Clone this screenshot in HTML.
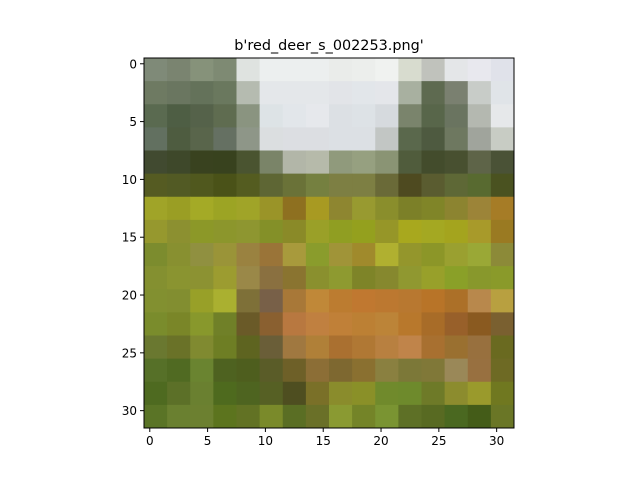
<!DOCTYPE html>
<html><head><meta charset="utf-8"><style>
body{margin:0;background:#fff;font-family:"Liberation Sans","DejaVu Sans",sans-serif}
svg text{font-family:"DejaVu Sans","Liberation Sans",sans-serif;font-size:12px;fill:#000}
</style></head><body>
<svg id="chart" width="640" height="480" viewBox="0 0 640 480" xmlns="http://www.w3.org/2000/svg">
<rect width="640" height="480" fill="#fff"/>
<text x="329" y="50" text-anchor="middle" style="font-size:14.4px">b'red_deer_s_002253.png'</text>
<g id="cells"></g>
<rect x="144" y="58" width="370" height="370" fill="none" stroke="#000" stroke-width="1"/>
<g id="ticks"></g>
</svg>
<script>
const pixelRows = [
["#7f8a78","#7a8470","#86927a","#7e8a73","#dfe3e0","#ecefef","#ecefef","#ecefef","#eaecea","#eceeec","#f0f2f0","#d8dccf","#c0c2bc","#e4e6e8","#e8e8ee","#e0e2ea"],
["#6e7a62","#6a7660","#64725a","#6a785e","#b5bbb0","#e4e7ea","#e4e7ea","#e4e7ea","#e2e4e8","#e2e6ea","#e4e6ea","#a8b0a0","#5e6a50","#7a8070","#c8ccc8","#e0e4e8"],
["#5a6a50","#4e5e44","#55624a","#5f6c50","#8a9480","#dde3e6","#e2e6ea","#e6e8ec","#dce0e4","#dde2e6","#d6dade","#7a846c","#58664a","#6a7460","#b4b8b0","#e6e8ea"],
["#627060","#4e5c40","#59654b","#657062","#8e9688","#dbdee0","#dcdee2","#dcdee2","#dce0e4","#dce0e4","#c2c6c4","#5a684c","#4e5a40","#6e7860","#a0a49c","#c8ccc4"],
["#414a30","#3e482a","#39421f","#38421e","#4a5430","#7a8468","#b2b6a8","#b6baaa","#909a7c","#96a080","#8a9474","#505c3c","#434c2c","#485030","#5e6448","#4a5236"],
["#555b22","#525a24","#50581e","#4a5218","#545c20","#5e6634","#6a7238","#758040","#7d7f43","#7d7f43","#6a6a38","#4e4a20","#5a5c30","#5e6836","#586a30","#4a5220"],
["#a0a428","#9a9e24","#a4aa26","#9ca424","#a0a428","#9a9428","#8e7020","#a89a22","#8e8630","#989a30","#8a8e2c","#7c8028","#808528","#8c8430","#9c8438","#a67c26"],
["#96982e","#8c9030","#8c9828","#8c962c","#8e9630","#849028","#8a8a28","#9aa028","#909e22","#94a01e","#969628","#a8a81e","#a4a822","#a4a41e","#a89a2a","#9a7a22"],
["#7c8c2e","#889030","#909040","#9a9438","#9a8240","#9a7438","#a89a3c","#8a9c2c","#a09438","#a08a2c","#b0b030","#94962c","#8c9628","#9aa030","#9aa836","#8c8a38"],
["#849030","#8a9430","#8c9232","#9c9c30","#9a8848","#8a7040","#8a7430","#8a902e","#8e9a30","#7e8428","#86882e","#909830","#98a02a","#8aa028","#88982c","#8a9a2a"],
["#829030","#828e30","#98a028","#aab030","#7e7038","#786048","#a87838","#c08838","#bc7c30","#c07830","#bc7830","#b87830","#b87428","#ac7028","#b8884c","#b8a040"],
["#7a8c2c","#7a8628","#88982c","#708028","#6a5a28","#8a6030","#b87840","#c08040","#c08038","#bc8034","#bc8438","#b8782c","#a86c28","#98602a","#8a5a20","#7a6030"],
["#6a7830","#6a7228","#808a30","#6e7e24","#5e6420","#6a5e38","#a07840","#b08038","#aa7030","#b07834","#b88040","#c0844a","#a87030","#9a7030","#98703e","#6a6a20"],
["#567028","#506a22","#6a8430","#4e6220","#4e5e1e","#5a5c28","#6e6028","#8c6e36","#7e6830","#8a7030","#8a8040","#7c7838","#807838","#9a8858","#987040","#6e6a24"],
["#4e6a20","#5c7028","#6a8030","#4e6a1e","#4e6420","#566024","#4e4e20","#7a7028","#8a8c2c","#8a9028","#708a2c","#6e8a2c","#6e7a28","#8c8c2e","#9a9a2c","#707820"],
["#5a7426","#6a8030","#6c8030","#5c741e","#627224","#7a8a2a","#5a6e24","#6a7028","#8a9a32","#748428","#7a9432","#5e7026","#586a22","#4a6820","#445c18","#6a7626"]
];
const imageSize = [32, 32];
const xTickLabels = [0, 5, 10, 15, 20, 25, 30];
const yTickLabels = [0, 5, 10, 15, 20, 25, 30];

const NS = "http://www.w3.org/2000/svg";
const X0 = 144, Y0 = 58, W = 370, H = 370;
const px = v => X0 + (v + 0.5) * W / imageSize[1];
const py = v => Y0 + (v + 0.5) * H / imageSize[0];
const cells = document.getElementById("cells");
const nR = pixelRows.length, nC = pixelRows[0].length;
const cw = W / nC, ch = H / nR;
pixelRows.forEach((row, r) => row.forEach((c, k) => {
  const el = document.createElementNS(NS, "rect");
  el.setAttribute("x", X0 + k * cw);
  el.setAttribute("y", Y0 + r * ch);
  el.setAttribute("width", cw + 0.5);
  el.setAttribute("height", ch + 0.5);
  el.setAttribute("fill", c);
  
  
  cells.appendChild(el);
}));
const ticks = document.getElementById("ticks");
xTickLabels.forEach(v => {
  const x = px(v);
  const l = document.createElementNS(NS, "line");
  l.setAttribute("x1", x); l.setAttribute("x2", x);
  l.setAttribute("y1", Y0 + H); l.setAttribute("y2", Y0 + H + 4);
  l.setAttribute("stroke", "#000");
  
  
  ticks.appendChild(l);
  const t = document.createElementNS(NS, "text");
  t.setAttribute("x", x); t.setAttribute("y", Y0 + H + 17);
  t.setAttribute("text-anchor", "middle");
  t.textContent = v;
  
  
  ticks.appendChild(t);
});
yTickLabels.forEach(v => {
  const y = py(v);
  const l = document.createElementNS(NS, "line");
  l.setAttribute("x1", X0 - 4); l.setAttribute("x2", X0);
  l.setAttribute("y1", y); l.setAttribute("y2", y);
  l.setAttribute("stroke", "#000");
  
  
  ticks.appendChild(l);
  const t = document.createElementNS(NS, "text");
  t.setAttribute("x", X0 - 7); t.setAttribute("y", y + 4.5);
  t.setAttribute("text-anchor", "end");
  t.textContent = v;
  
  
  ticks.appendChild(t);
});
</script>
</body></html>
